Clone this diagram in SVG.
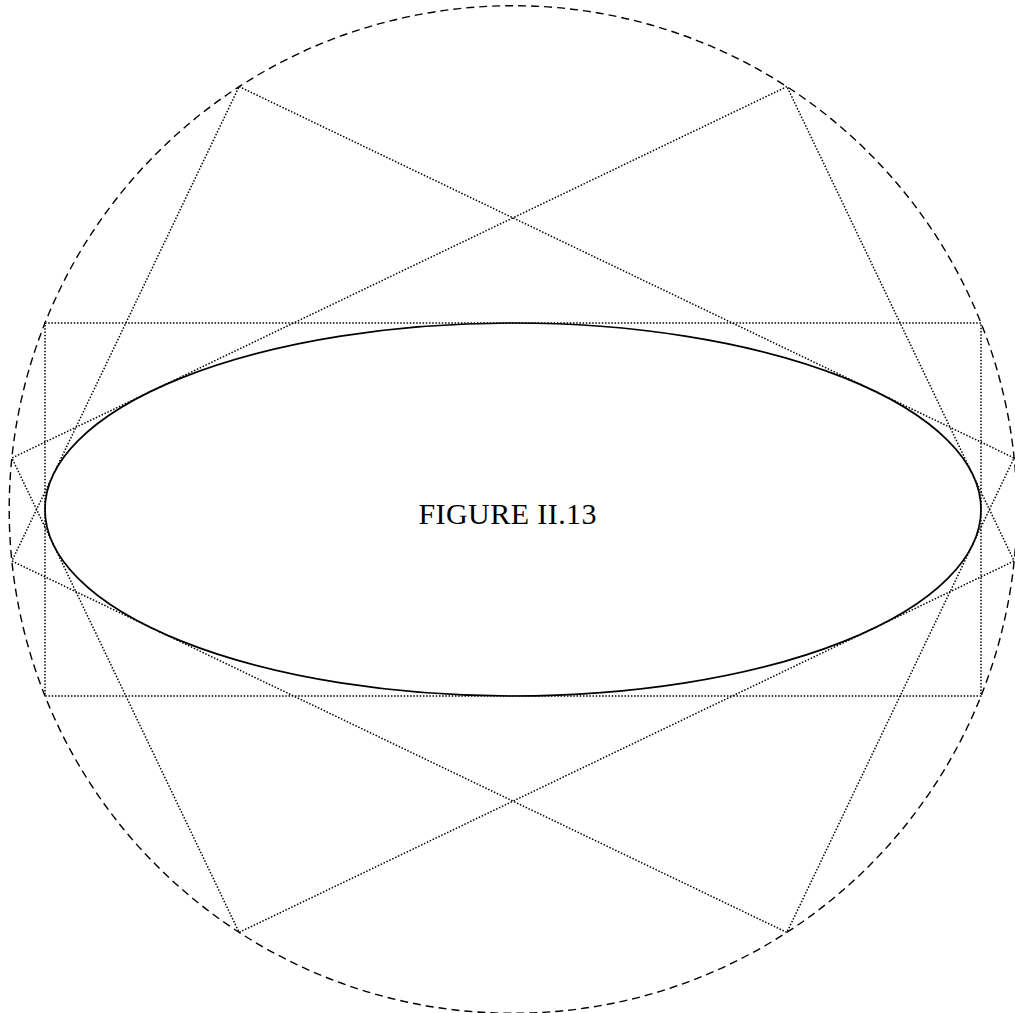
<svg xmlns="http://www.w3.org/2000/svg" width="1015" height="1013" viewBox="0 0 1015 1013">
<style>
.dash{fill:none;stroke:#000;stroke-width:1.4;stroke-dasharray:8,5}
.dot{fill:none;stroke:#000;stroke-width:1.5;stroke-dasharray:1.5,1.7}
.solid{fill:none;stroke:#000;stroke-width:1.7}
.lbl{font-family:"Liberation Serif","Times New Roman",serif;font-size:30px;fill:#000}
</style>
<rect width="1015" height="1013" fill="#fff"/>
<g id="director-circle"><circle class="dash" cx="513" cy="509.5" r="503.8"/></g>
<g id="connectors">
<rect class="dot" x="45" y="323" width="936" height="373"/>
<polygon class="dot" points="239.1,86.6 1014.1,458 786.9,932.4 11.9,561"/>
<polygon class="dot" points="786.9,86.6 11.9,458 239.1,932.4 1014.1,561"/>
</g>
<g id="ellipse"><ellipse class="solid" cx="513" cy="509.5" rx="468" ry="186.5"/></g>
<g id="label"><text class="lbl" x="418.5" y="524" textLength="178">FIGURE II.13</text></g>
</svg>
